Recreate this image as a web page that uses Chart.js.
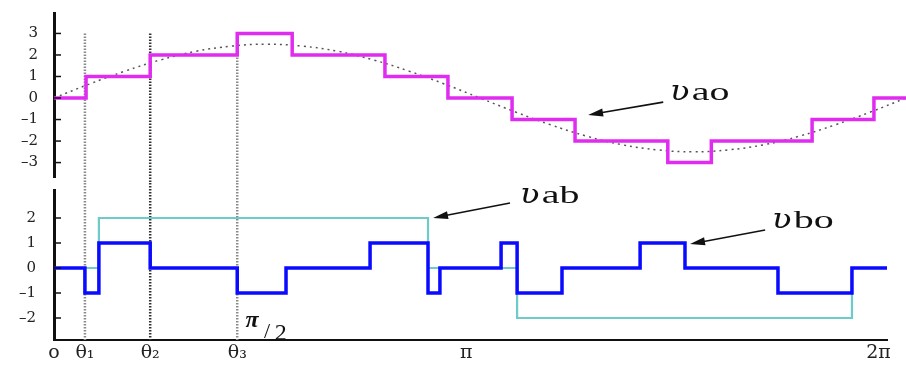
<!DOCTYPE html>
<html>
<head>
<meta charset="utf-8">
<script src="https://cdn.jsdelivr.net/npm/chart.js@4"></script>
<style>
  html, body { margin: 0; padding: 0; background: #fff; }
  #wrap { position: relative; width: 906px; height: 366px; }
  #topChart, #botChart { position: absolute; left: 0; }
  #topChart { top: 0; }
  #botChart { top: 183px; }
</style>
</head>
<body>
<div id="wrap">
  <canvas id="topChart" width="906" height="183"></canvas>
  <canvas id="botChart" width="906" height="183"></canvas>
</div>
<script>
// x values are in degrees of the fundamental (360 = 2π)
const thetaMarks = [13.5, 42, 80];            // θ1, θ2, θ3
const tickAngles = [0, 13.5, 42, 80, 180, 360];
const tickNames  = ['o', 'θ₁', 'θ₂', 'θ₃', 'π', '2π'];

// v_ao staircase (level starts at each x)
const vaoX = [0, 14, 42, 80, 104, 144.5, 172, 200, 227.5, 268, 287, 331, 358, 372];
const vaoY = [0, 1, 2, 3, 2, 1, 0, -1, -2, -3, -2, -1, 0, 0];

// dotted fundamental behind v_ao
const sineX = [0, 15.5, 31, 46.5, 62, 77.5, 93, 108.5, 124, 139.5, 155, 170.5, 186,
               201.5, 217, 232.5, 248, 263.5, 279, 294.5, 310, 325.5, 341, 356.5, 372];
const sineY = [0, 0.65, 1.25, 1.77, 2.17, 2.41, 2.5, 2.41, 2.17, 1.77, 1.25, 0.65, 0,
               -0.65, -1.25, -1.77, -2.17, -2.41, -2.5, -2.41, -2.17, -1.77, -1.25, -0.65, 0];

// v_ab and v_bo staircases
const vabX = [0, 19.6, 163.3, 202.2, 348.4, 363.7];
const vabY = [0, 2, 0, -2, 0, 0];

const vboX = [0, 13.5, 19.6, 42, 80, 101.3, 138, 163.3, 168.5, 195.2, 202.2, 221.8, 255.9, 275.5, 316.1, 348.4, 363.7];
const vboY = [0, -1, 1, 0, -1, 0, 1, -1, 0, 1, -1, 0, 1, 0, -1, 0, 0];

const topTicks = [-3, -2, -1, 0, 1, 2, 3];
const botTicks = [-2, -1, 0, 1, 2];

const magenta = '#e02cf0';
const blue    = '#0a0aff';
const cyan    = '#6fcaca';

const pts = (xs, ys) => xs.map((x, i) => ({ x: x, y: ys[i] }));
const minusLabel = v => (v < 0 ? '\u2013' + (-v) : '' + v);
const serif = '"DejaVu Serif", "Liberation Serif", serif';

// keep the axes from reserving room for their end labels
const noPad = s => { s.paddingTop = 0; s.paddingBottom = 0; s.paddingLeft = 0; s.paddingRight = 0; };

// helpers for annotations
function arrow(ctx, x1, y1, x2, y2) {
  const a = Math.atan2(y2 - y1, x2 - x1);
  ctx.save();
  ctx.strokeStyle = '#111';
  ctx.fillStyle = '#111';
  ctx.lineWidth = 1.6;
  ctx.beginPath();
  ctx.moveTo(x1, y1);
  ctx.lineTo(x2 - 10 * Math.cos(a), y2 - 10 * Math.sin(a));
  ctx.stroke();
  ctx.beginPath();
  ctx.moveTo(x2, y2);
  ctx.lineTo(x2 - 15 * Math.cos(a) + 4 * Math.sin(a), y2 - 15 * Math.sin(a) - 4 * Math.cos(a));
  ctx.lineTo(x2 - 15 * Math.cos(a) - 4 * Math.sin(a), y2 - 15 * Math.sin(a) + 4 * Math.cos(a));
  ctx.closePath();
  ctx.fill();
  ctx.restore();
}

function vLabel(ctx, x, y, sub) {
  ctx.save();
  ctx.fillStyle = '#111';
  ctx.textBaseline = 'alphabetic';
  ctx.translate(x, y);
  ctx.save();
  ctx.scale(1.2, 1);
  ctx.font = 'italic 27px ' + serif;
  ctx.fillText('ʋ', 0, 0);
  const w = ctx.measureText('ʋ').width * 1.2;
  ctx.restore();
  ctx.scale(1.6, 1);
  ctx.font = '25px "Liberation Serif", serif';
  ctx.fillText(sub, (w + 2) / 1.6, 0);
  ctx.restore();
}

function thetaLines(chart, yTop, yBottom) {
  const ctx = chart.ctx;
  const xs = chart.scales.x;
  ctx.save();
  ctx.lineWidth = 2.5;
  ctx.setLineDash([1.5, 1.5]);
  thetaMarks.forEach((t, i) => {
    ctx.strokeStyle = i === 1 ? '#333' : '#8a8a8a';
    const px = xs.getPixelForValue(t);
    ctx.beginPath();
    ctx.moveTo(px, yTop);
    ctx.lineTo(px, yBottom);
    ctx.stroke();
  });
  ctx.restore();
}

function innerTicks(chart, values) {
  const ctx = chart.ctx;
  const ys = chart.scales.y;
  ctx.save();
  ctx.strokeStyle = '#111';
  ctx.lineWidth = 1.5;
  values.forEach(v => {
    const py = ys.getPixelForValue(v);
    ctx.beginPath();
    ctx.moveTo(ys.right, py);
    ctx.lineTo(ys.right + 7, py);
    ctx.stroke();
  });
  ctx.restore();
}

// top chart: v_ao
const topDecor = {
  id: 'topDecor',
  beforeDatasetsDraw(chart) {
    thetaLines(chart, chart.scales.y.getPixelForValue(3), chart.height);
  },
  afterDraw(chart) {
    const x = chart.scales.x, y = chart.scales.y;
    innerTicks(chart, topTicks);
    arrow(chart.ctx, x.getPixelForValue(266), y.getPixelForValue(-0.19),
                     x.getPixelForValue(233.2), y.getPixelForValue(-0.79));
    vLabel(chart.ctx, x.getPixelForValue(269), y.getPixelForValue(-0.1), 'ao');
  }
};

new Chart(document.getElementById('topChart'), {
  type: 'line',
  data: {
    datasets: [
      {
        data: pts(vaoX, vaoY),
        borderColor: magenta,
        borderWidth: 3.5,
        stepped: 'before',
        pointRadius: 0,
        order: 0
      },
      {
        data: pts(sineX, sineY),
        borderColor: '#555',
        borderWidth: 1.5,
        borderDash: [2, 4],
        tension: 0.4,
        pointRadius: 0,
        order: 1
      }
    ]
  },
  options: {
    responsive: false,
    animation: false,
    layout: { padding: { top: 13, bottom: 6, left: 0, right: 0 } },
    plugins: { legend: { display: false }, tooltip: { enabled: false } },
    scales: {
      x: { type: 'linear', min: 0, max: 372, display: false },
      y: {
        min: -3.67,
        max: 3.95,
        afterFit: s => { s.width = 54; noPad(s); },
        afterBuildTicks: s => { s.ticks = topTicks.map(v => ({ value: v })); },
        grid: { display: false, drawTicks: false },
        border: { display: true, color: '#111', width: 3 },
        ticks: {
          padding: 16,
          color: '#222',
          font: { family: serif, size: 15 },
          callback: v => minusLabel(v)
        }
      }
    }
  },
  plugins: [topDecor]
});

// bottom chart: v_ab and v_bo
const botDecor = {
  id: 'botDecor',
  beforeDatasetsDraw(chart) {
    thetaLines(chart, 0, chart.chartArea.bottom);
  },
  afterDraw(chart) {
    const x = chart.scales.x, y = chart.scales.y, ctx = chart.ctx;
    innerTicks(chart, botTicks);
    arrow(ctx, x.getPixelForValue(199.1), y.getPixelForValue(2.6),
               x.getPixelForValue(165.5), y.getPixelForValue(2.0));
    arrow(ctx, x.getPixelForValue(310.5), y.getPixelForValue(1.52),
               x.getPixelForValue(277.7), y.getPixelForValue(0.96));
    vLabel(ctx, x.getPixelForValue(203.5), y.getPixelForValue(2.62), 'ab');
    vLabel(ctx, x.getPixelForValue(313.5), y.getPixelForValue(1.62), 'bo');

    // π/2 mark
    ctx.save();
    ctx.fillStyle = '#111';
    ctx.font = 'italic bold 24px "Liberation Serif", serif';
    ctx.textAlign = 'center';
    ctx.fillText('π', x.getPixelForValue(86.5), y.getPixelForValue(-2.36));
    ctx.font = '22px "Liberation Serif", serif';
    ctx.fillText('/', x.getPixelForValue(93), y.getPixelForValue(-2.8));
    ctx.font = '24px "Liberation Serif", serif';
    ctx.fillText('2', x.getPixelForValue(99), y.getPixelForValue(-2.86));
    ctx.restore();
  }
};

new Chart(document.getElementById('botChart'), {
  type: 'line',
  data: {
    datasets: [
      {
        data: pts(vboX, vboY),
        borderColor: blue,
        borderWidth: 3.5,
        stepped: 'before',
        pointRadius: 0,
        order: 0
      },
      {
        data: pts(vabX, vabY),
        borderColor: cyan,
        borderWidth: 2.2,
        stepped: 'before',
        pointRadius: 0,
        order: 1
      }
    ]
  },
  options: {
    responsive: false,
    animation: false,
    layout: { padding: { top: 7, bottom: 0, left: 0, right: 19 } },
    plugins: { legend: { display: false }, tooltip: { enabled: false } },
    scales: {
      x: {
        type: 'linear',
        min: 0,
        max: 363.7,
        afterFit: s => { s.height = 26; noPad(s); },
        afterBuildTicks: s => { s.ticks = tickAngles.map(v => ({ value: v })); },
        grid: { display: false, drawTicks: false },
        border: { display: true, color: '#111', width: 2 },
        ticks: {
          padding: 2,
          maxRotation: 0,
          autoSkip: false,
          color: '#222',
          font: { family: serif, size: 19 },
          callback: (v, i) => tickNames[i]
        }
      },
      y: {
        min: -2.88,
        max: 3.12,
        afterFit: s => { s.width = 54; noPad(s); },
        afterBuildTicks: s => { s.ticks = botTicks.map(v => ({ value: v })); },
        grid: { display: false, drawTicks: false },
        border: { display: true, color: '#111', width: 3 },
        ticks: {
          padding: 18,
          color: '#222',
          font: { family: serif, size: 15 },
          callback: v => minusLabel(v)
        }
      }
    }
  },
  plugins: [botDecor]
});
</script>
</body>
</html>
